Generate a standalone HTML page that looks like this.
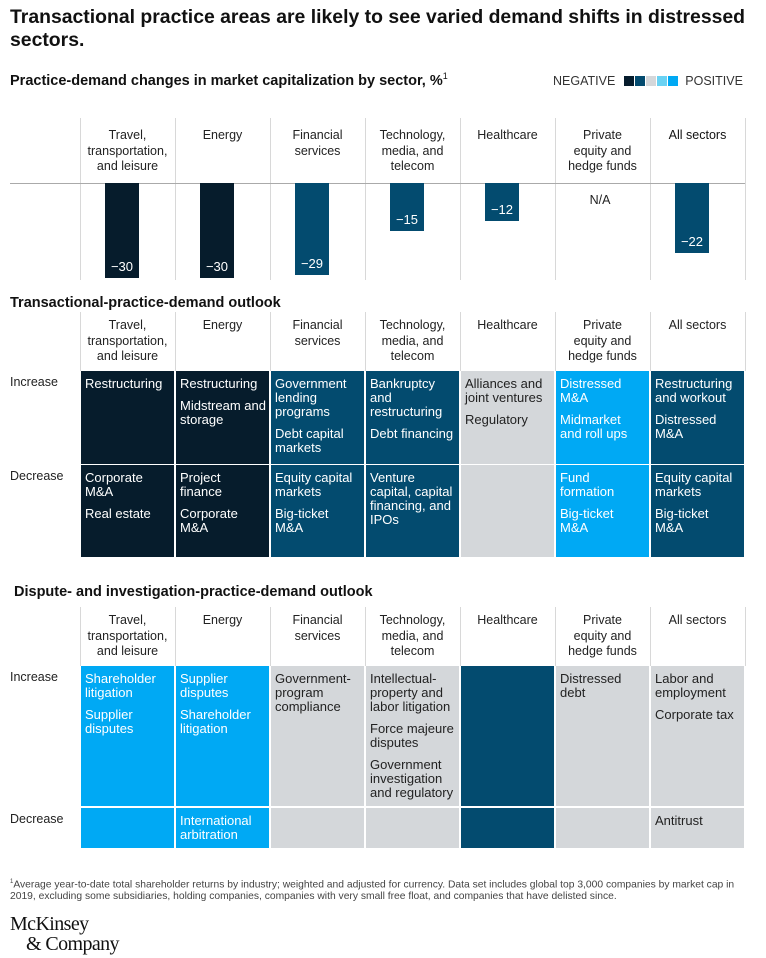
<!DOCTYPE html>
<html><head><meta charset="utf-8">
<style>
body{margin:0;background:#fff;font-family:"Liberation Sans",sans-serif;color:#222;}
#root{position:relative;width:766px;height:958px;overflow:hidden;}
.abs{position:absolute;}
.title{left:10px;top:6px;width:756px;font-size:19.4px;font-weight:bold;line-height:23px;color:#111;}
.sub{font-size:14.5px;font-weight:bold;color:#111;}
.hdr{position:absolute;width:95px;text-align:center;font-size:12.5px;line-height:15.5px;color:#222;}
.grid{position:absolute;width:1px;background:#d8d8d8;}
.cell{position:absolute;width:93px;box-sizing:border-box;padding:6px 2px 0 4px;font-size:13px;line-height:14px;white-space:nowrap;overflow:hidden;}
.cell p{margin:0 0 8px 0;}
.rowlab{position:absolute;left:10px;font-size:12.5px;}
</style></head><body>
<div id="root">
<div class="abs title">Transactional practice areas are likely to see varied demand shifts in distressed sectors.</div>
<div class="abs sub" style="left:10px;top:71px">Practice-demand changes in market capitalization by sector, %<sup style="font-size:9px;font-weight:normal">1</sup></div>
<div class="abs" style="left:553px;top:74px;font-size:12.5px;color:#333;display:flex;align-items:center">
<span>NEGATIVE</span>
<span style="display:inline-flex;gap:1px;margin:0 7px 0 9px">
<i style="width:10px;height:10px;background:#061c2c;display:block"></i><i style="width:10px;height:10px;background:#034b6f;display:block"></i><i style="width:10px;height:10px;background:#d4d7da;display:block"></i><i style="width:10px;height:10px;background:#6ad2f3;display:block"></i><i style="width:10px;height:10px;background:#00a9f4;display:block"></i></span>
<span>POSITIVE</span></div>
<div class="abs sub" style="left:10px;top:295px">Transactional-practice-demand outlook</div>
<div class="abs sub" style="left:14px;top:584px">Dispute- and investigation-practice-demand outlook</div>
<div class="abs" style="left:10px;top:876px;width:750px;font-size:10.3px;line-height:12px;color:#444;white-space:nowrap"><sup style="font-size:6px">1</sup>Average year-to-date total shareholder returns by industry; weighted and adjusted for currency. Data set includes global top 3,000 companies by market cap in<br>2019, excluding some subsidiaries, holding companies, companies with very small free float, and companies that have delisted since.</div>
<div class="abs" style="left:10px;top:914px;font-family:'Liberation Serif',serif;font-size:20px;line-height:20px;color:#111;letter-spacing:-0.6px">McKinsey<br><span style="padding-left:16px">&amp; Company</span></div>
</div>
<script>
const sectors=["Travel,<br>transportation,<br>and leisure","Energy","Financial<br>services","Technology,<br>media, and<br>telecom","Healthcare","Private<br>equity and<br>hedge funds","All sectors"];
const values=[-30,-30,-29,-15,-12,null,-22];
const barColors=["#061c2c","#061c2c","#034b6f","#034b6f","#034b6f",null,"#034b6f"];
const t1Inc=[["Restructuring"],["Restructuring","Midstream and<br>storage"],["Government<br>lending<br>programs","Debt capital<br>markets"],["Bankruptcy<br>and<br>restructuring","Debt financing"],["Alliances and<br>joint ventures","Regulatory"],["Distressed<br>M&amp;A","Midmarket<br>and roll ups"],["Restructuring<br>and workout","Distressed<br>M&amp;A"]];
const t1Dec=[["Corporate<br>M&amp;A","Real estate"],["Project<br>finance","Corporate<br>M&amp;A"],["Equity capital<br>markets","Big-ticket<br>M&amp;A"],["Venture<br>capital, capital<br>financing, and<br>IPOs"],[],["Fund<br>formation","Big-ticket<br>M&amp;A"],["Equity capital<br>markets","Big-ticket<br>M&amp;A"]];
const t1Col=["#061c2c","#061c2c","#034b6f","#034b6f","#d4d7da","#00a9f4","#034b6f"];
const t2Inc=[["Shareholder<br>litigation","Supplier<br>disputes"],["Supplier<br>disputes","Shareholder<br>litigation"],["Government-<br>program<br>compliance"],["Intellectual-<br>property and<br>labor litigation","Force majeure<br>disputes","Government<br>investigation<br>and regulatory"],[],["Distressed<br>debt"],["Labor and<br>employment","Corporate tax"]];
const t2Dec=[[],["International<br>arbitration"],[],[],[],[],["Antitrust"]];
const t2Col=["#00a9f4","#00a9f4","#d4d7da","#d4d7da","#034b6f","#d4d7da","#d4d7da"];
const root=document.getElementById('root');
const colX=i=>80+95*i;
const y0=183, pxPerUnit=95/30;
const yScale=v=>y0-v*pxPerUnit;
function add(tag,cls,style,html){const e=document.createElement(tag);if(cls)e.className=cls;Object.assign(e.style,style);if(html!==undefined)e.innerHTML=html;root.appendChild(e);return e;}
[[118,280],[312,371],[607,666]].forEach((r,k)=>{for(let i=0;i<=7;i++){const g=add('div','grid',{left:colX(i)+'px',top:r[0]+'px',height:(r[1]-r[0])+'px'});

}});
const ax=add('div','abs',{left:'10px',top:y0+'px',width:'735px',height:'1px',background:'#aaa'});


[128,318,613].forEach(top=>{sectors.forEach((s,i)=>{const h=add('div','hdr',{left:colX(i)+'px',top:top+'px',color:i==6&&top==128?'#111':'#222'},s);

});});
values.forEach((v,i)=>{
  const cx=colX(i)+42;
  if(v===null){const n=add('div','abs',{left:(cx-17)+'px',top:'193px',width:'40px',textAlign:'center',fontSize:'12.5px'},'N/A');
  
  return;}
  const yb=yScale(v);
  const b=add('div','abs',{left:(cx-17)+'px',top:y0+'px',width:'34px',height:(yb-y0)+'px',background:barColors[i]});
  
  
  const l=add('div','abs',{left:(cx-17)+'px',top:(yb-19)+'px',width:'34px',textAlign:'center',fontSize:'13px',color:'#fff'},'\u2212'+Math.abs(v));
  
  
});
function table(inc,dec,cols,yi,hi,yd,hd){
  [['Increase',yi],['Decrease',yd]].forEach(r=>{const e=add('div','rowlab',{top:(r[1]+4)+'px'},r[0]);
  
  });
  cols.forEach((c,i)=>{
    const fg=c=='#d4d7da'?'#222':'#fff';
    [[inc[i],yi,hi],[dec[i],yd,hd]].forEach(r=>{
      const e=add('div','cell',{left:(colX(i)+1)+'px',top:r[1]+'px',height:r[2]+'px',background:c,color:fg},r[0].map(t=>'<p>'+t+'</p>').join(''));
      
      
    });
  });
}
table(t1Inc,t1Dec,t1Col,371,93,465,92);
table(t2Inc,t2Dec,t2Col,666,140,808,40);
</script>
</body></html>
